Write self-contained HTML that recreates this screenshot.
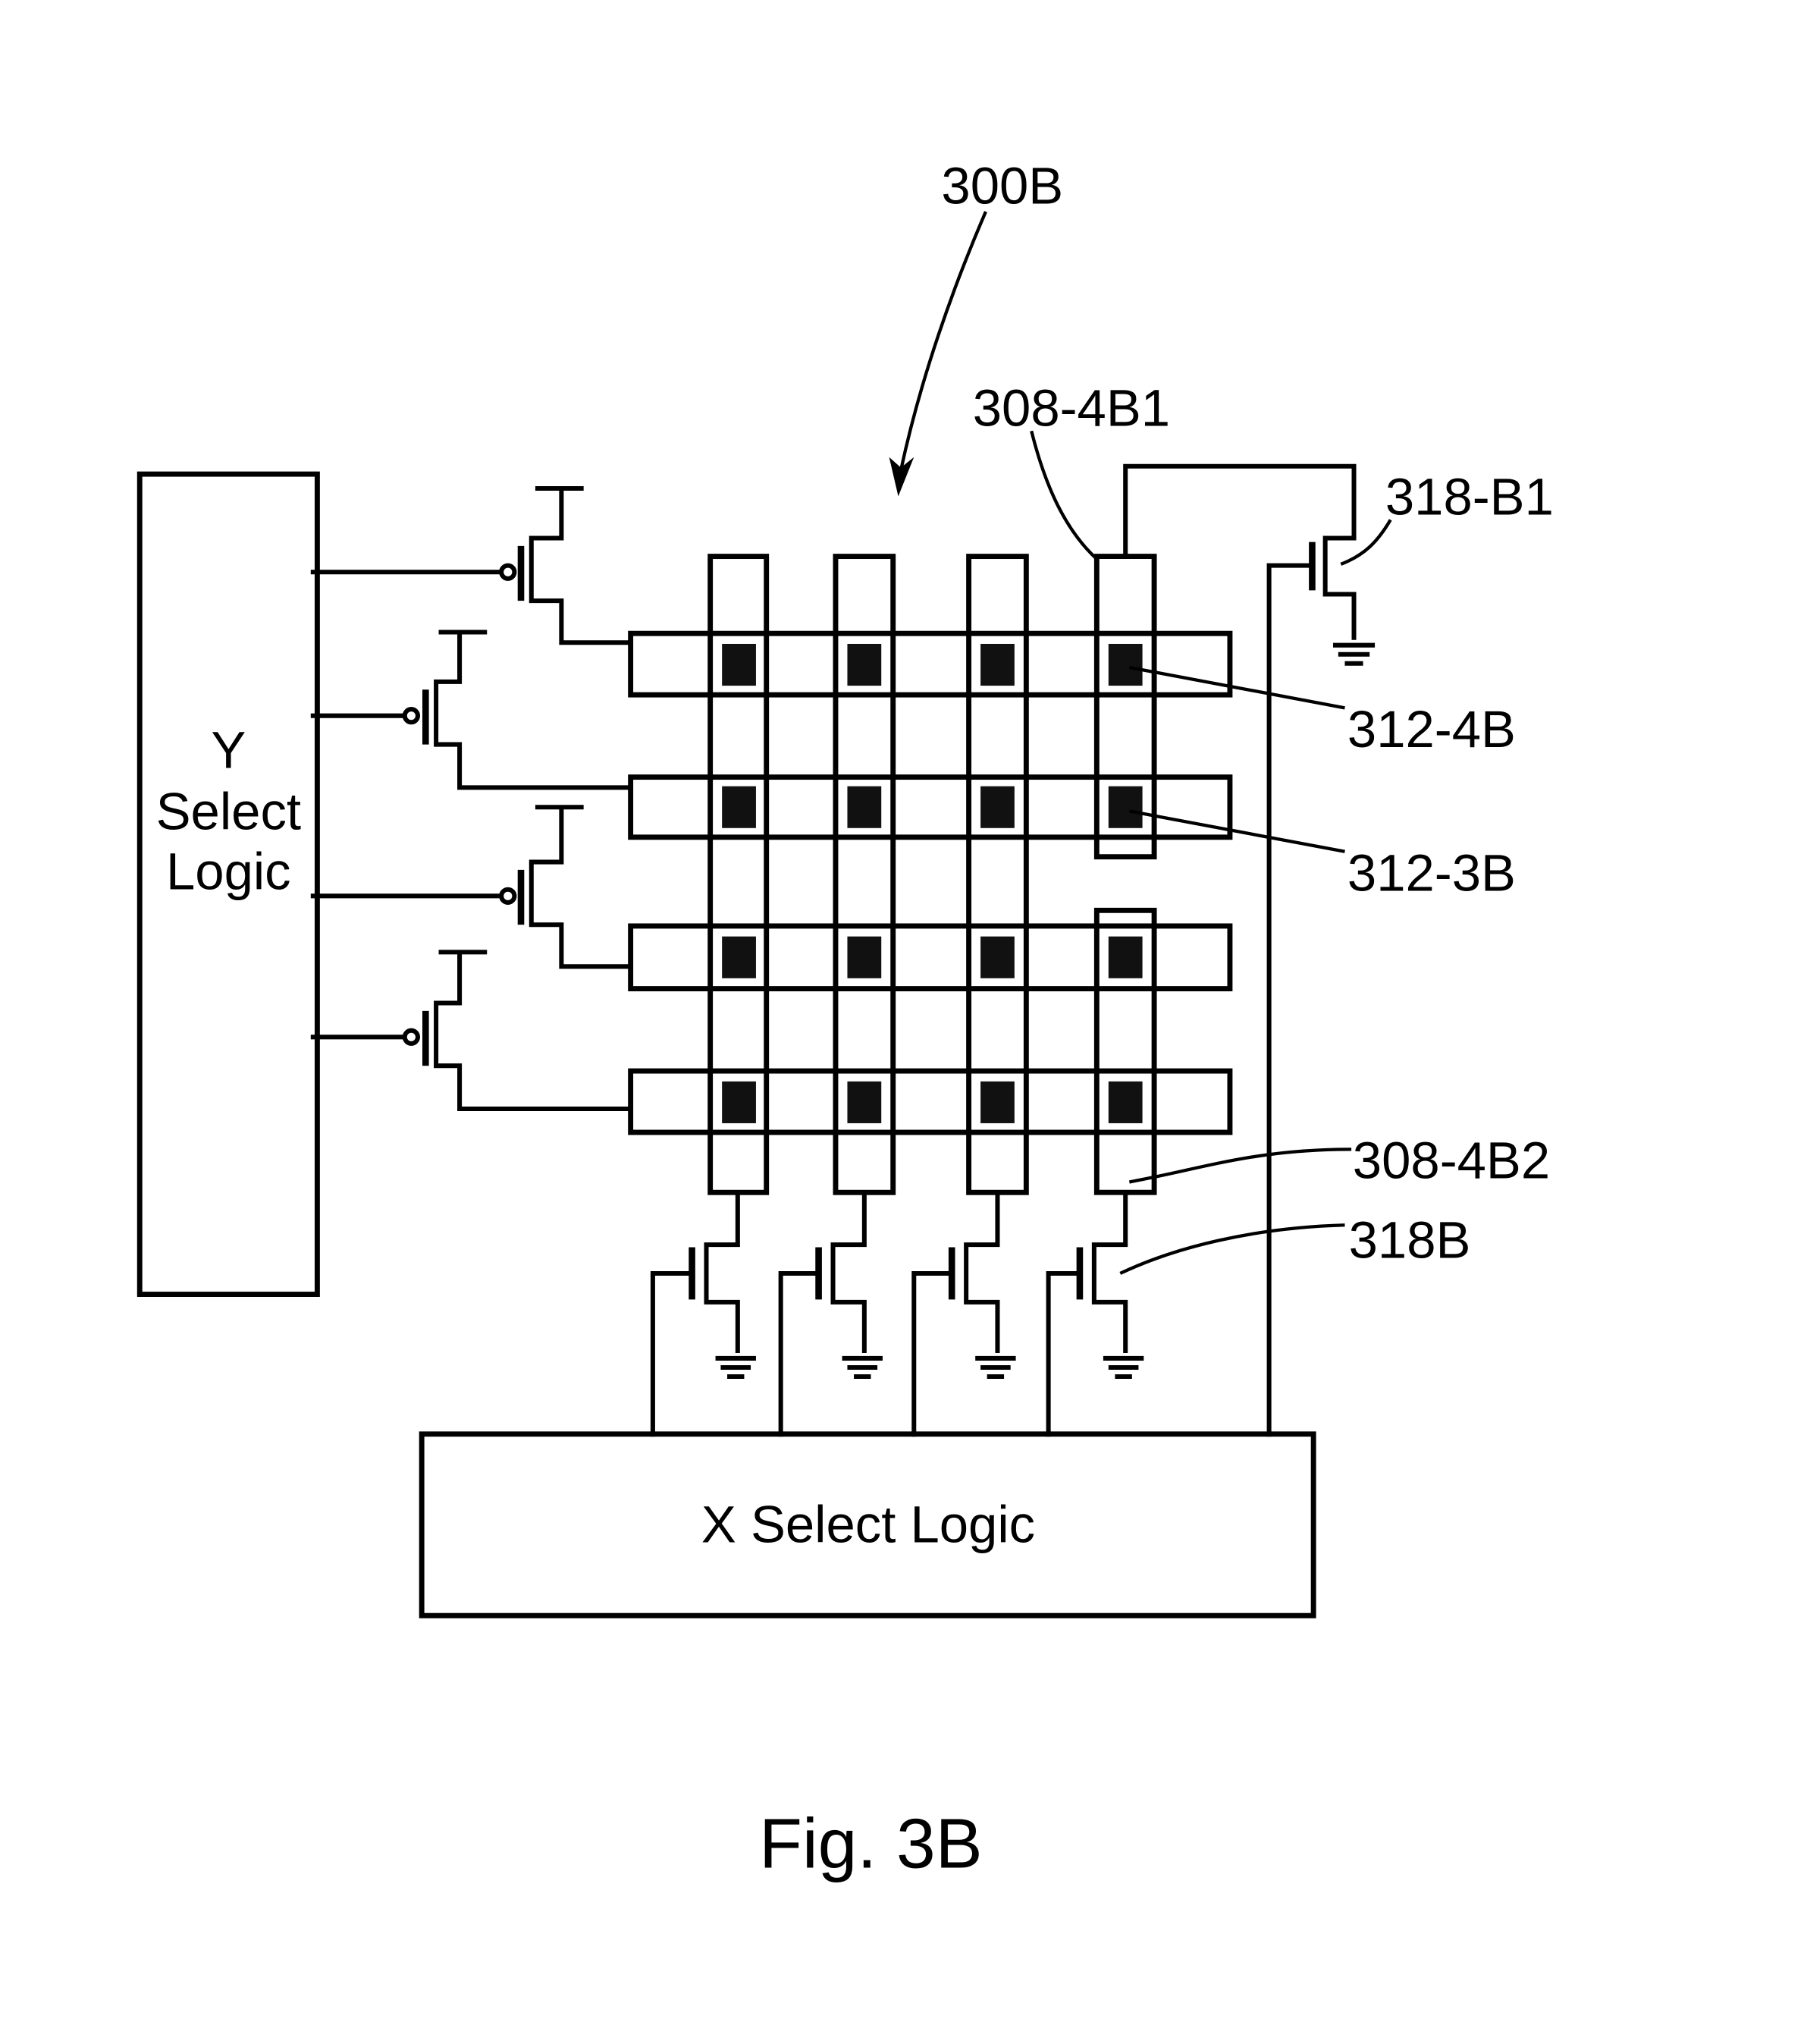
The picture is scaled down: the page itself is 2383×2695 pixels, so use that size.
<!DOCTYPE html>
<html><head><meta charset="utf-8"><style>
html,body{margin:0;padding:0;background:#fff}
svg{display:block}
text{font-family:"Liberation Sans",Arial,sans-serif;fill:#000}
</style></head><body>
<svg width="2383" height="2695" viewBox="0 0 1384 1565" preserveAspectRatio="none" xmlns="http://www.w3.org/2000/svg">
<g fill="none" stroke="#000" stroke-width="4" stroke-linejoin="miter">
<rect x="107" y="363" width="136" height="628"/>
<rect x="323" y="1098" width="683" height="139"/>
<rect x="544" y="426" width="43" height="487"/>
<rect x="640" y="426" width="44" height="487"/>
<rect x="742" y="426" width="44" height="487"/>
<path d="M840 656 V426 H884 V656 Z"/>
<path d="M840 697 V913 H884 V697 Z"/>
<rect x="483" y="485" width="459" height="47" fill="#fff"/>
<rect x="483" y="595" width="459" height="46" fill="#fff"/>
<rect x="483" y="709" width="459" height="48" fill="#fff"/>
<rect x="483" y="820" width="459" height="47" fill="#fff"/>
<path d="M544 485V532M587 485V532M640 485V532M684 485V532M742 485V532M786 485V532M840 485V532M884 485V532"/>
<path d="M544 595V641M587 595V641M640 595V641M684 595V641M742 595V641M786 595V641M840 595V641M884 595V641"/>
<path d="M544 709V757M587 709V757M640 709V757M684 709V757M742 709V757M786 709V757M840 709V757M884 709V757"/>
<path d="M544 820V867M587 820V867M640 820V867M684 820V867M742 820V867M786 820V867M840 820V867M884 820V867"/>
</g>
<g fill="#111">
<rect x="553" y="493" width="26" height="32"/><rect x="649" y="493" width="26" height="32"/><rect x="751" y="493" width="26" height="32"/><rect x="849" y="493" width="26" height="32"/>
<rect x="553" y="602" width="26" height="32"/><rect x="649" y="602" width="26" height="32"/><rect x="751" y="602" width="26" height="32"/><rect x="849" y="602" width="26" height="32"/>
<rect x="553" y="717" width="26" height="32"/><rect x="649" y="717" width="26" height="32"/><rect x="751" y="717" width="26" height="32"/><rect x="849" y="717" width="26" height="32"/>
<rect x="553" y="828" width="26" height="32"/><rect x="649" y="828" width="26" height="32"/><rect x="751" y="828" width="26" height="32"/><rect x="849" y="828" width="26" height="32"/>
</g>
<g fill="none" stroke="#000" stroke-width="3.5">
<path d="M238 438H384"/><circle cx="389" cy="438" r="5" fill="#fff"/><path d="M399 418V460" stroke-width="5"/>
<path d="M447 374H410M430 374V412H407V460H430V492H483"/>
<path d="M238 548H310"/><circle cx="315" cy="548" r="5" fill="#fff"/><path d="M326 528V570" stroke-width="5"/>
<path d="M373 484H336M352 484V522H334V570H352V603H483"/>
<path d="M238 686H384"/><circle cx="389" cy="686" r="5" fill="#fff"/><path d="M399 666V708" stroke-width="5"/>
<path d="M447 618H410M430 618V660H407V708H430V740H483"/>
<path d="M238 794H310"/><circle cx="315" cy="794" r="5" fill="#fff"/><path d="M326 774V816" stroke-width="5"/>
<path d="M373 729H336M352 729V768H334V816H352V849H483"/>
<path d="M565 913V953H541V997H565V1036"/><path d="M530 955V995" stroke-width="5"/><path d="M530 975H500V1100"/>
<path d="M548 1040H579M552 1047H575M557 1054H570"/>
<path d="M662 913V953H638V997H662V1036"/><path d="M627 955V995" stroke-width="5"/><path d="M627 975H598V1100"/>
<path d="M645 1040H676M649 1047H672M654 1054H667"/>
<path d="M764 913V953H740V997H764V1036"/><path d="M729 955V995" stroke-width="5"/><path d="M729 975H700V1100"/>
<path d="M747 1040H778M751 1047H774M756 1054H769"/>
<path d="M862 913V953H838V997H862V1036"/><path d="M827 955V995" stroke-width="5"/><path d="M827 975H803V1100"/>
<path d="M845 1040H876M849 1047H872M854 1054H867"/>
<path d="M862 426V357H1037V412H1015V455H1037V490"/><path d="M1005 415V452" stroke-width="5"/><path d="M1005 433H972V1100"/>
<path d="M1021 494H1053M1025 501H1049M1030 508H1044"/>
<path d="M755 162C730 220 705 290 690 360" stroke-width="2.5"/>
<path d="M790 330C800 370 815 405 840 428" stroke-width="2.5"/>
<path d="M1065 398C1055 415 1045 425 1027 432" stroke-width="2.5"/>
<path d="M865 511L1030 542" stroke-width="2.5"/>
<path d="M865 621L1030 652" stroke-width="2.5"/>
<path d="M865 905C920 895 960 880 1035 880" stroke-width="2.5"/>
<path d="M858 975C900 955 960 940 1030 938" stroke-width="2.5"/>
</g>
<path d="M681 350L688 380L700 350L690 358Z" fill="#000"/>
<g font-size="40">
<text x="721" y="156">300B</text>
<text x="745" y="326">308-4B1</text>
<text x="1061" y="394">318-B1</text>
<text x="1032" y="572">312-4B</text>
<text x="1032" y="682">312-3B</text>
<text x="1036" y="902">308-4B2</text>
<text x="1033" y="963">318B</text>
<text x="175" y="588" text-anchor="middle">Y</text>
<text x="175" y="635" text-anchor="middle">Select</text>
<text x="175" y="681" text-anchor="middle">Logic</text>
<text x="665" y="1181" text-anchor="middle">X Select Logic</text>
<text x="667" y="1430" text-anchor="middle" font-size="54">Fig. 3B</text>
</g>
</svg>
</body></html>
